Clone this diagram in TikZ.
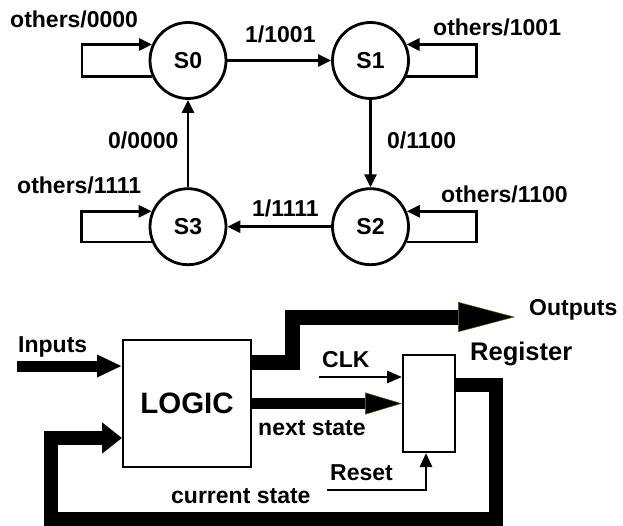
\documentclass[tikz,border=0pt]{standalone}
\usepackage{fontspec}
\setmainfont{Liberation Sans}
\usetikzlibrary{arrows.meta}
\definecolor{edgeolive}{RGB}{95,90,0}
\begin{document}
\begin{tikzpicture}[x=1pt,y=-1pt,
  lbl/.style={anchor=base west, inner sep=0pt, font=\fontsize{23}{27}\selectfont\bfseries},
  state/.style={circle, draw, line width=2.8pt, minimum size=76pt, inner sep=0pt, font=\fontsize{23}{27}\selectfont\bfseries},
  arr/.style={line width=2.8pt, -{Triangle[length=13pt,width=12pt]}},
  box/.style={draw, line width=2pt, inner sep=0pt},
  bus/.style={line width=#1, line join=miter},
]
\useasboundingbox (0,0) rectangle (623,526);

% ---- state diagram ----
\node[state] (S0) at (188,60.5) {S0};
\node[state] (S1) at (370.5,60.5) {S1};
\node[state] (S2) at (370.5,226.7) {S2};
\node[state] (S3) at (188,226.7) {S3};

\draw[arr] (S0) -- (S1);
\draw[arr] (S1) -- (S2);
\draw[arr] (S2) -- (S3);
\draw[arr] (S3) -- (S0);

\draw[arr] (S0.204) -- ++(-70,0) |- (S0.156);
\draw[arr] (S1.-24) -- ++(70,0) |- (S1.24);
\draw[arr] (S2.-23) -- ++(70,0) |- (S2.23);
\draw[arr] (S3.203) -- ++(-70,0) |- (S3.157);

\node[lbl] (l0) at (10,28) {others/0000};
\node[lbl] (l1) at (245,43) {1/1001};
\node[lbl] (l2) at (433,36) {others/1001};
\node[lbl] (l3) at (108,149) {0/0000};
\node[lbl] (l4) at (387,149) {0/1100};
\node[lbl] (l5) at (17,194) {others/1111};
\node[lbl] (l6) at (252,217) {1/1111};
\node[lbl] (l7) at (441,203) {others/1100};

% ---- block diagram ----
\node[box, minimum width=128pt, minimum height=127pt, font=\fontsize{29.5}{34}\selectfont\bfseries] (logic) at (187,403.5) {LOGIC};
\node[box, minimum width=52pt, minimum height=97pt] (reg) at (429,403.5) {};

\coordinate (inS) at (17,366);
\coordinate (outT) at (515,317);
\coordinate (clkS) at (319,377);
\coordinate (rstS) at (327,490);

\draw[bus=11pt, -{Triangle[length=25pt,width=21pt]}] (inS) -- (inS -| logic.west);
\draw[bus=15pt, -{Triangle[length=57pt,width=30pt,fill=black,color=edgeolive,line width=0.5pt 0]}]
  (logic.east |- 0,362) -| (292,317) -- (outT);
\draw[bus=11pt, -{Triangle[length=37pt,width=22pt,fill=black,color=edgeolive,line width=0.5pt 0]}] (logic) -- (reg);
\draw[bus=14pt, -{Triangle[length=20pt,width=30pt]}]
  (reg.east |- 0,385) -| (496,519) -| (51,438) -- (logic.west |- 0,438);

\draw[line width=2.8pt, -{Triangle[length=15pt,width=12pt]}] (clkS) -- (clkS -| reg.west);
\draw[line width=2.8pt, -{Triangle[length=14pt,width=12pt]}] (rstS) -| ([xshift=-3pt]reg.south);

\node[lbl] (tin) at (18,352) {Inputs};
\node[lbl] (tns) at (258,435) {next state};
\node[lbl] (tcs) at (171,503) {current state};
\node[lbl] (tout) at (529,315) {Outputs};
\node[lbl, font=\fontsize{25.5}{30}\selectfont\bfseries] (treg) at (470,360) {Register};
\node[lbl] (tclk) at (322,367) {CLK};
\node[lbl] (trst) at (330,480) {Reset};
\end{tikzpicture}
\end{document}
